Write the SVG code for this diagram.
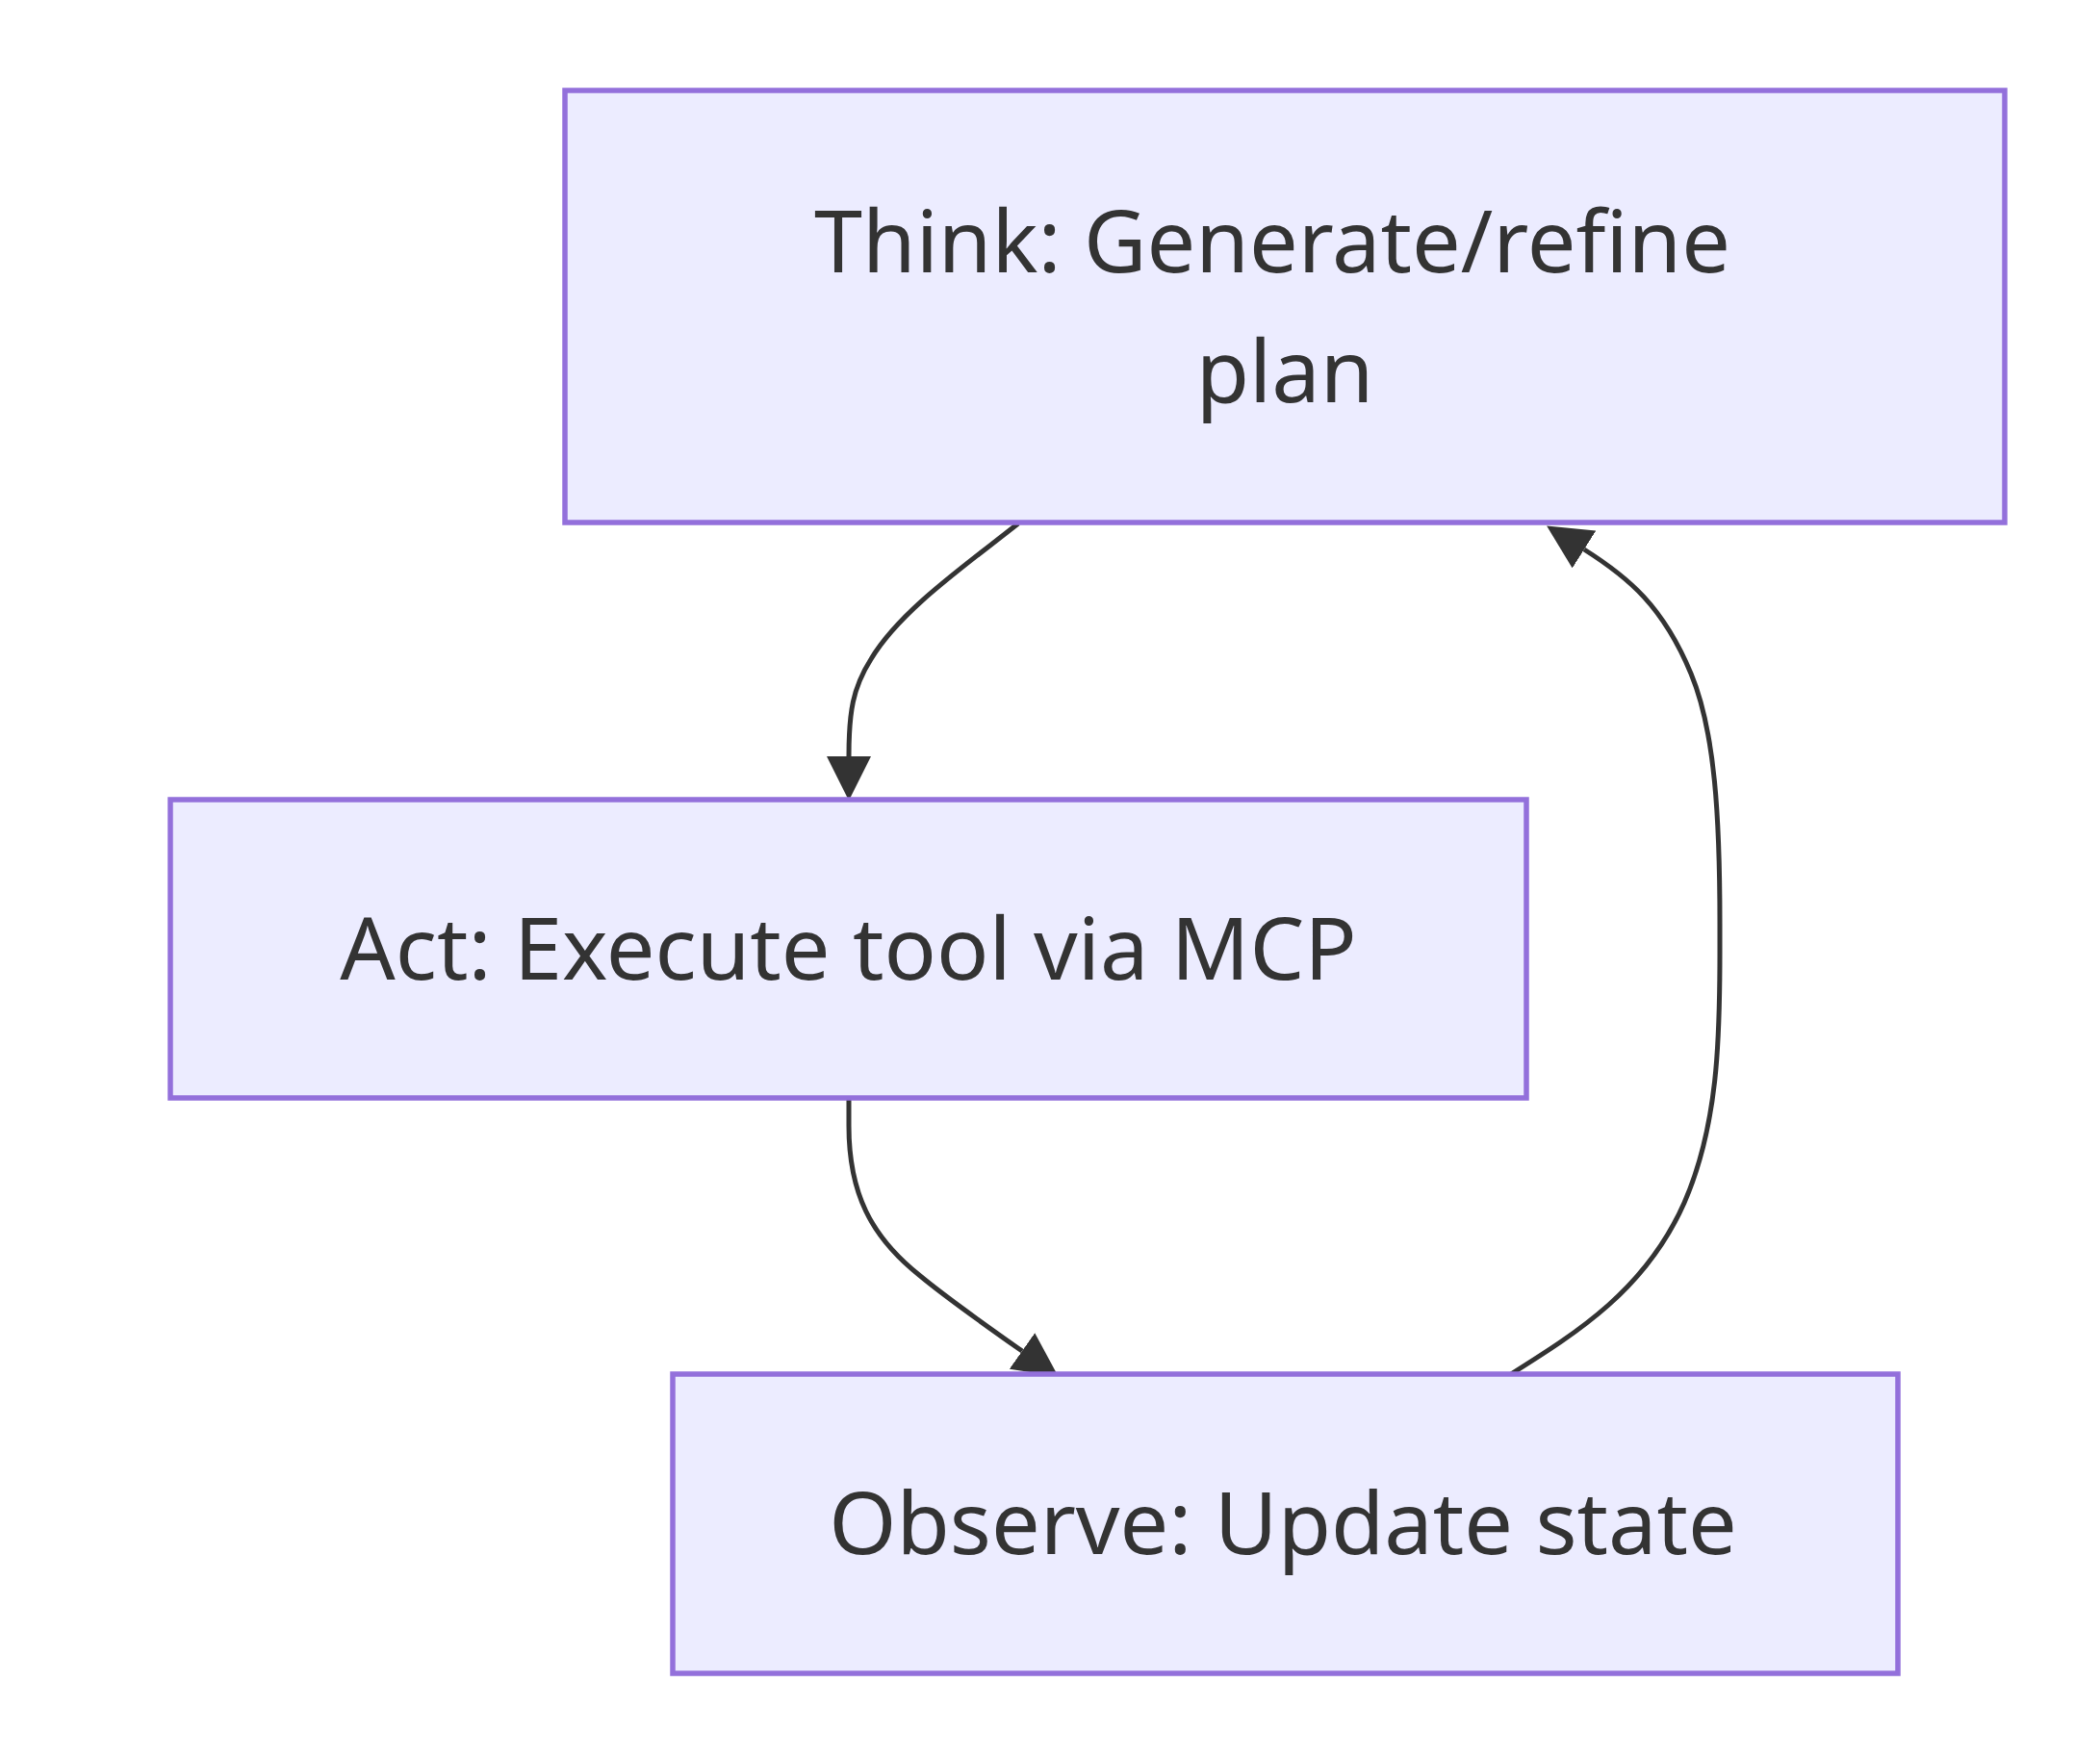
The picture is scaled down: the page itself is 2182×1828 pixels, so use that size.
<svg xmlns="http://www.w3.org/2000/svg" width="2182" height="1828" viewBox="0 0 2182 1828">
<style>
.node rect{fill:#ECECFF;stroke:#9370DB;stroke-width:5.5}
.node text{font-family:"Noto Sans","DejaVu Sans",sans-serif;font-size:90px;fill:#333333;text-anchor:middle}
.edge{fill:none;stroke:#333333;stroke-width:5}
</style>
<defs>
<marker id="arrow" viewBox="0 0 10 10" refX="0" refY="5" markerUnits="userSpaceOnUse" markerWidth="46" markerHeight="46" orient="auto">
<path d="M0,0 L10,5 L0,10 z" fill="#333333"/>
</marker>
</defs>
<rect width="2182" height="1828" fill="#ffffff"/>
<g id="connectors">
<path class="edge" d="M1058,544 C1000,590 935,635 905,685 C886,715 882,740 882,786" marker-end="url(#arrow)"/>
<path class="edge" d="M882,1141 L882,1170 C882,1240 905,1285 955,1325 C985,1350 1025,1378 1062,1404" marker-end="url(#arrow)"/>
<path class="edge" d="M1570,1428 C1640,1384 1710,1340 1750,1250 C1785,1170 1787,1080 1787,990 L1787,960 C1787,850 1782,760 1757,700 C1728,630 1692,600 1646,571" marker-end="url(#arrow)"/>
</g>
<g id="think" class="node">
<rect x="587" y="94" width="1496" height="449"/>
<text x="1322" y="283">Think: Generate/refine</text>
<text x="1335" y="418">plan</text>
</g>
<g id="act" class="node">
<rect x="177" y="831" width="1409" height="310"/>
<text x="881.5" y="1018">Act: Execute tool via MCP</text>
</g>
<g id="observe" class="node">
<rect x="699" y="1428" width="1273" height="311"/>
<text x="1333" y="1615">Observe: Update state</text>
</g>
</svg>
